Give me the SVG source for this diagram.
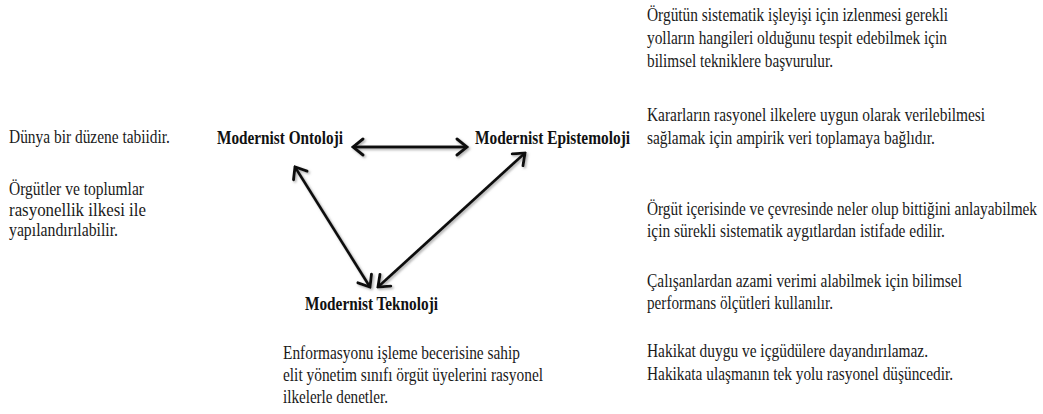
<svg xmlns="http://www.w3.org/2000/svg" width="1043" height="414" viewBox="0 0 1043 414">
<style>
  .txt { font-family: 'Liberation Serif', 'Times New Roman', serif; font-size: 18px; fill: #1a1a1a; }
  .node { font-family: 'Liberation Serif', 'Times New Roman', serif; font-weight: bold; font-size: 18px; fill: #111; }
  .conn line { stroke: #111; stroke-width: 2.8; fill: none; }
</style>
<defs>
  <marker id="chev" viewBox="0 0 14 20" refX="12" refY="10" markerWidth="14" markerHeight="20" markerUnits="userSpaceOnUse" orient="auto-start-reverse">
    <path d="M2,2 L12,10 L2,18" fill="none" stroke="#111" stroke-width="2.9" stroke-linecap="round"/>
  </marker>
  <filter id="sh" x="-10%" y="-10%" width="130%" height="130%">
    <feDropShadow dx="1.5" dy="1.5" stdDeviation="1" flood-color="#777" flood-opacity="0.6"/>
  </filter>
</defs>
<rect width="1043" height="414" fill="#ffffff"/>

<g id="connectors" class="conn" filter="url(#sh)">
  <line x1="353" y1="147" x2="467" y2="147" marker-start="url(#chev)" marker-end="url(#chev)"/>
  <line x1="295" y1="167" x2="370" y2="287" marker-start="url(#chev)" marker-end="url(#chev)"/>
  <line x1="525" y1="153" x2="378" y2="287" marker-start="url(#chev)" marker-end="url(#chev)"/>
</g>

<g id="node-ontoloji" class="node">
  <text transform="translate(217,144) scale(0.85,1)" textLength="148.2" lengthAdjust="spacingAndGlyphs">Modernist Ontoloji</text>
</g>
<g id="node-epistemoloji" class="node">
  <text transform="translate(475,144) scale(0.85,1)" textLength="182.4" lengthAdjust="spacingAndGlyphs">Modernist Epistemoloji</text>
</g>
<g id="node-teknoloji" class="node">
  <text transform="translate(305,310) scale(0.85,1)" textLength="156.5" lengthAdjust="spacingAndGlyphs">Modernist Teknoloji</text>
</g>

<g id="note-ontoloji" class="txt">
  <text transform="translate(9,143) scale(0.82,1)" textLength="196.3" lengthAdjust="spacingAndGlyphs">Dünya bir düzene tabiidir.</text>
  <text transform="translate(9,195) scale(0.82,1)" textLength="164.6" lengthAdjust="spacingAndGlyphs">Örgütler ve toplumlar</text>
  <text transform="translate(9,216) scale(0.82,1)" textLength="167.1" lengthAdjust="spacingAndGlyphs">rasyonellik ilkesi ile</text>
  <text transform="translate(9,236) scale(0.82,1)" textLength="132.9" lengthAdjust="spacingAndGlyphs">yapılandırılabilir.</text>
</g>

<g id="note-teknoloji" class="txt">
  <text transform="translate(283,359) scale(0.82,1)" textLength="289" lengthAdjust="spacingAndGlyphs">Enformasyonu işleme becerisine sahip</text>
  <text transform="translate(283,381) scale(0.82,1)" textLength="317.1" lengthAdjust="spacingAndGlyphs">elit yönetim sınıfı örgüt üyelerini rasyonel</text>
  <text transform="translate(283,403) scale(0.82,1)" textLength="128" lengthAdjust="spacingAndGlyphs">ilkelerle denetler.</text>
</g>

<g id="note-epistemoloji" class="txt">
  <text transform="translate(647,21) scale(0.82,1)" textLength="367.1" lengthAdjust="spacingAndGlyphs">Örgütün sistematik işleyişi için izlenmesi gerekli</text>
  <text transform="translate(647,44) scale(0.82,1)" textLength="365.9" lengthAdjust="spacingAndGlyphs">yolların hangileri olduğunu tespit edebilmek için</text>
  <text transform="translate(647,67) scale(0.82,1)" textLength="226.8" lengthAdjust="spacingAndGlyphs">bilimsel tekniklere başvurulur.</text>
  <text transform="translate(647,121) scale(0.82,1)" textLength="412.2" lengthAdjust="spacingAndGlyphs">Kararların rasyonel ilkelere uygun olarak verilebilmesi</text>
  <text transform="translate(647,144) scale(0.82,1)" textLength="351.2" lengthAdjust="spacingAndGlyphs">sağlamak için ampirik veri toplamaya bağlıdır.</text>
  <text transform="translate(647,215) scale(0.82,1)" textLength="475.6" lengthAdjust="spacingAndGlyphs">Örgüt içerisinde ve çevresinde neler olup bittiğini anlayabilmek</text>
  <text transform="translate(647,237) scale(0.82,1)" textLength="363.4" lengthAdjust="spacingAndGlyphs">için sürekli sistematik aygıtlardan istifade edilir.</text>
  <text transform="translate(647,287) scale(0.82,1)" textLength="384.1" lengthAdjust="spacingAndGlyphs">Çalışanlardan azami verimi alabilmek için bilimsel</text>
  <text transform="translate(647,309) scale(0.82,1)" textLength="226.8" lengthAdjust="spacingAndGlyphs">performans ölçütleri kullanılır.</text>
  <text transform="translate(647,357) scale(0.82,1)" textLength="342.7" lengthAdjust="spacingAndGlyphs">Hakikat duygu ve içgüdülere dayandırılamaz.</text>
  <text transform="translate(647,380) scale(0.82,1)" textLength="373.2" lengthAdjust="spacingAndGlyphs">Hakikata ulaşmanın tek yolu rasyonel düşüncedir.</text>
</g>
</svg>
